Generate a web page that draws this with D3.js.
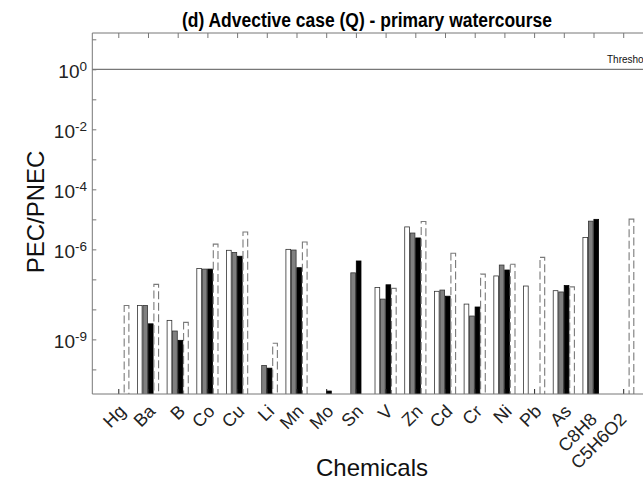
<!DOCTYPE html>
<html>
<head>
<meta charset="utf-8">
<script src="https://cdn.jsdelivr.net/npm/d3@7/dist/d3.min.js"></script>
<style>
  html, body { margin: 0; padding: 0; background: #fff; }
  svg { display: block; font-family: "Liberation Sans", Arial, Helvetica, sans-serif; }
</style>
</head>
<body>
<svg id="chart" width="643" height="485"></svg>
<script>
// Chemicals along the x axis
const chemicals = ["Hg", "Ba", "B", "Co", "Cu", "Li", "Mn", "Mo", "Sn", "V",
                   "Zn", "Cd", "Cr", "Ni", "Pb", "As", "C8H8", "C5H6O2"];

// PEC/PNEC ratios per scenario (null = not drawn)
const seriesWhite  = [null, 1.35e-8, 4.3e-9, 2.3e-7, 9.3e-7, null, 1.0e-6, null, null, 5.4e-8,
                      5.6e-6, 4.0e-8, 1.5e-8, 1.3e-7, 6.0e-8, 4.2e-8, 2.5e-6, null];
const seriesGray   = [null, 1.35e-8, 1.9e-9, 2.2e-7, 7.9e-7, 1.35e-10, 9.5e-7, null, 1.65e-7, 2.2e-8,
                      3.5e-6, 4.4e-8, 6.0e-9, 3.0e-7, null, 3.8e-8, 8.7e-6, null];
const seriesBlack  = [null, 3.3e-9, 9.3e-10, 2.2e-7, 5.9e-7, 1.1e-10, 2.45e-7, 1.9e-11, 4.1e-7, 6.6e-8,
                      2.4e-6, 2.75e-8, 1.2e-8, 2.05e-7, null, 6.2e-8, 1.0e-5, null];
const seriesDashed = [1.35e-8, 6.8e-8, 3.7e-9, 1.5e-6, 3.8e-6, 7.4e-10, 1.75e-6, null, null, 5.0e-8,
                      8.5e-6, 7.4e-7, 1.5e-7, 3.2e-7, 5.4e-7, 5.6e-8, null, 1.02e-5];

// Labelled decades on the y axis, and the threshold level
const yLabelExponents = [0, -2, -4, -6, -9];
const yTickExponents = [1, 0, -1, -2, -3, -4, -5, -6, -7, -8, -9, -10];
const thresholdValue = 1;
const thresholdLabel = "Threshold";

const titleText = "(d) Advective case (Q) - primary watercourse";
const xTitle = "Chemicals";
const yTitle = "PEC/PNEC";

const svg = d3.select("#chart");
const plot = { left: 92.3, right: 649.2, top: 33, bottom: 394 };

const x = d3.scaleLinear()
  .domain([-0.875, chemicals.length - 1 + 0.875])
  .range([plot.left, plot.right]);

const y = d3.scaleLog()
  .domain([Math.pow(10, -10.82), Math.pow(10, 1.21)])
  .range([plot.bottom, plot.top]);

// bars: four per chemical, evenly offset around the group centre
const slot = 0.185;
const series = [
  { values: seriesWhite,  fill: "#ffffff", stroke: "#333", dash: null },
  { values: seriesGray,   fill: "#808080", stroke: "#333", dash: null },
  { values: seriesBlack,  fill: "#000000", stroke: "#000", dash: null },
  { values: seriesDashed, fill: "none",    stroke: "#7a7a7a", dash: "8,3.5" }
];

svg.append("clipPath").attr("id", "plotclip")
  .append("rect")
  .attr("x", plot.left).attr("y", plot.top)
  .attr("width", plot.right - plot.left).attr("height", plot.bottom - plot.top);

const barsG = svg.append("g").attr("clip-path", "url(#plotclip)");

series.forEach((s, j) => {
  const off = (j - 1.5) * slot;
  const data = s.values.map((v, i) => ({ i, v })).filter(d => d.v != null);
  barsG.selectAll(null)
    .data(data)
    .enter()
    .append("rect")
    .attr("x", d => x(d.i + off - slot / 2) + 0.4)
    .attr("width", d => x(d.i + off + slot / 2) - x(d.i + off - slot / 2) - 0.8)
    .attr("y", d => y(d.v))
    .attr("height", d => plot.bottom + 2 - y(d.v))
    .attr("fill", s.fill)
    .attr("stroke", s.stroke)
    .attr("stroke-width", s.dash ? 1.1 : 0.8)
    .attr("stroke-dasharray", s.dash);
});

// threshold line
svg.append("line")
  .attr("x1", plot.left).attr("x2", plot.right)
  .attr("y1", y(thresholdValue)).attr("y2", y(thresholdValue))
  .attr("stroke", "#555").attr("stroke-width", 1);

svg.append("text")
  .attr("x", 607).attr("y", y(thresholdValue) - 6)
  .attr("font-size", 10).attr("fill", "#111")
  .text(thresholdLabel);

// y axis ticks (inward) at every decade
const yAxis = d3.axisLeft(y)
  .tickValues(yTickExponents.map(e => Math.pow(10, e)))
  .tickSizeInner(-4).tickSizeOuter(0)
  .tickFormat("");
const yAxisG = svg.append("g").attr("transform", `translate(${plot.left},0)`).call(yAxis);
yAxisG.select(".domain").remove();
yAxisG.selectAll(".tick line").attr("stroke", "#777");

// y tick labels as 10 with superscript exponent
const yLab = svg.append("g").attr("fill", "#222");
yLabelExponents.forEach(e => {
  const t = yLab.append("text")
    .attr("x", 87).attr("y", y(Math.pow(10, e)) + 9)
    .attr("text-anchor", "end")
    .attr("font-size", 19);
  t.append("tspan").text("10");
  t.append("tspan").attr("font-size", 13.5).attr("dy", -7).text(String(e));
});

// x axis ticks: top (pointing down) and bottom (pointing up)
const xTop = d3.axisTop(x)
  .tickValues(d3.range(chemicals.length))
  .tickSizeInner(-5).tickSizeOuter(0).tickFormat("");
const xTopG = svg.append("g").attr("transform", `translate(0,${plot.top})`).call(xTop);
xTopG.select(".domain").remove();
xTopG.selectAll(".tick line").attr("stroke", "#777");

const xBot = d3.axisBottom(x)
  .tickValues(d3.range(chemicals.length))
  .tickSizeInner(-5).tickSizeOuter(0).tickFormat("");
const xBotG = svg.append("g").attr("transform", `translate(0,${plot.bottom})`).call(xBot);
xBotG.select(".domain").remove();
xBotG.selectAll(".tick line").attr("stroke", "#222");

// frame
svg.append("path")
  .attr("d", `M${plot.right},${plot.top}H${plot.left}V${plot.bottom}H${plot.right}`)
  .attr("fill", "none").attr("stroke", "#777").attr("stroke-width", 1);

// rotated category labels; the longer formula names sit a little lower
svg.append("g").selectAll("text")
  .data(chemicals)
  .enter()
  .append("text")
  .attr("transform", (d, i) => {
    const long = d.length > 2;
    const tx = x(i) + 4 - (long ? 4 : 0);
    const ty = plot.bottom + 14 + (long ? 8 : 0);
    return `translate(${tx},${ty}) rotate(-45)`;
  })
  .attr("text-anchor", "end")
  .attr("dy", "0.35em")
  .attr("font-size", 18)
  .attr("fill", "#222")
  .text(d => d);

// titles
svg.append("text")
  .attr("x", 367).attr("y", 27)
  .attr("text-anchor", "middle")
  .attr("font-size", 20).attr("font-weight", "bold")
  .attr("textLength", 370).attr("lengthAdjust", "spacingAndGlyphs")
  .attr("fill", "#000")
  .text(titleText);

svg.append("text")
  .attr("x", 372).attr("y", 476)
  .attr("text-anchor", "middle")
  .attr("font-size", 24).attr("fill", "#111")
  .text(xTitle);

svg.append("text")
  .attr("transform", `translate(44,212) rotate(-90)`)
  .attr("text-anchor", "middle")
  .attr("font-size", 24).attr("fill", "#111")
  .text(yTitle);
</script>
</body>
</html>
